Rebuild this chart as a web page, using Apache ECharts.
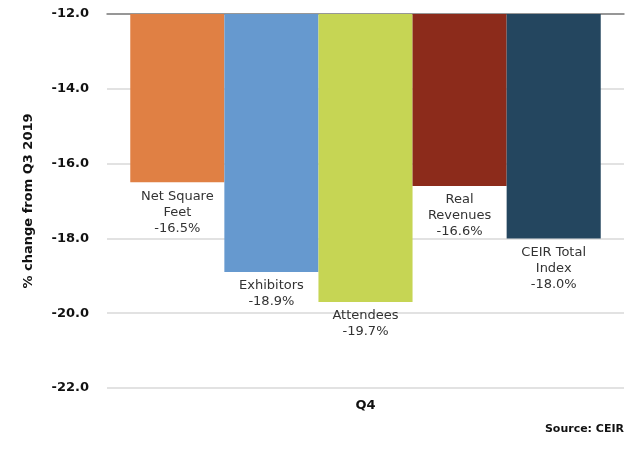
<!DOCTYPE html>
<html>
<head>
<meta charset="utf-8">
<script src="https://cdn.jsdelivr.net/npm/echarts@6/dist/echarts.min.js"></script>
<style>
html,body{margin:0;padding:0;background:#fff;}
#chart{width:641px;height:450px;}
</style>
</head>
<body>
<div id="chart"></div>
<script>
const categories = ['Q4'];
const seriesNames = ['Net Square Feet', 'Exhibitors', 'Attendees', 'Real Revenues', 'CEIR Total Index'];
const labelTexts = ['Net Square\nFeet', 'Exhibitors', 'Attendees', 'Real\nRevenues', 'CEIR Total\nIndex'];
const values = [-16.5, -18.9, -19.7, -16.6, -18.0];
const colors = ['#E08044', '#6699CF', '#C6D554', '#8C2B1B', '#24465F'];
const yTicks = [-22, -20, -18, -16, -14, -12];

const chart = echarts.init(document.getElementById('chart'));
const font = 'DejaVu Sans, Verdana, sans-serif';

const series = seriesNames.map((name, i) => ({
  name: name,
  type: 'bar',
  xAxisIndex: 0,
  data: [values[i]],
  barGap: '0%',
  barCategoryGap: '9%',
  clip: true,
  itemStyle: { color: colors[i] },
  label: {
    show: true,
    position: 'bottom',
    distance: 6,
    fontFamily: font,
    fontSize: 13,
    lineHeight: 16,
    color: '#333',
    formatter: () => labelTexts[i] + '\n' + values[i].toFixed(1) + '%'
  }
}));

chart.setOption({
  animation: false,
  backgroundColor: '#fff',
  grid: { left: 107, right: 17, top: 14, bottom: 62, containLabel: false },
  xAxis: [{
    type: 'category',
    data: categories,
    position: 'bottom',
    axisLine: { show: false },
    axisTick: { show: false },
    axisLabel: { fontFamily: font, fontSize: 13, fontWeight: 'bold', color: '#111', margin: 11 }
  }, {
    type: 'category',
    data: categories,
    position: 'top',
    axisLine: { show: true, lineStyle: { color: '#7f7f7f', width: 1.5 } },
    axisTick: { show: false },
    axisLabel: { show: false }
  }],
  yAxis: {
    type: 'value',
    min: yTicks[0],
    max: yTicks[yTicks.length - 1],
    interval: 2,
    name: '% change from Q3 2019',
    nameLocation: 'middle',
    nameGap: 72,
    nameTextStyle: { fontFamily: font, fontSize: 13, fontWeight: 'bold', color: '#111' },
    axisLine: { show: false },
    axisTick: { show: false },
    axisLabel: {
      fontFamily: font, fontSize: 13, fontWeight: 'bold', color: '#111', margin: 18,
      formatter: v => v.toFixed(1)
    },
    splitLine: { show: true, lineStyle: { color: '#d9d9d9', width: 1.5 } }
  },
  series: series,
  graphic: [{
    type: 'text',
    right: 17,
    top: 424,
    style: { text: 'Source: CEIR', fontFamily: font, fontSize: 11, fontWeight: 'bold', fill: '#111' }
  }]
});
</script>
</body>
</html>
